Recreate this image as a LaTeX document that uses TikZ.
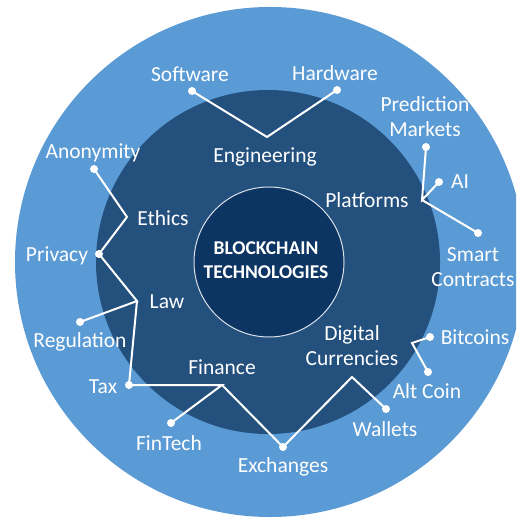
\documentclass[tikz,border=0pt]{standalone}
\usepackage{fontspec}
\setmainfont{Carlito}
\definecolor{outerblue}{HTML}{5B9BD5}
\definecolor{midblue}{HTML}{24507E}
\definecolor{innerblue}{HTML}{0C3563}
\begin{document}
\begin{tikzpicture}[x=1pt,y=-1pt,
  lab/.style={text=white,font=\fontsize{21.5}{25}\selectfont,inner sep=0pt,align=center},
  dot/.style={circle,fill=white,inner sep=0pt,minimum size=8pt},
  conn/.style={white,line width=2pt,line join=miter}]
\useasboundingbox (0,0) rectangle (516,518);
\clip (0,0) rectangle (516,518);
\fill[white] (0,0) rectangle (516,518);
\fill[outerblue] (270,262) circle [radius=255pt];
\fill[midblue] (268,262) circle [radius=172pt];
\filldraw[fill=innerblue,draw=white!85!innerblue,line width=1pt] (269,262) circle [radius=75pt];

\node[lab,font=\fontsize{19.5}{24}\selectfont\bfseries] (core) at (266,260) {BLOCKCHAIN\\TECHNOLOGIES};

% labels
\node[lab] (tsw) at (190,74) {Software};
\node[lab] (thw) at (335,73) {Hardware};
\node[lab] (teng) at (265,157) {Engineering};
\node[lab] (tpm) at (425,117) {Prediction\\Markets};
\node[lab] (tai) at (460,182) {AI};
\node[lab] (tsc) at (473,267) {Smart\\Contracts};
\node[lab] (tplat) at (367,200) {Platforms};
\node[lab] (tanon) at (93,153) {Anonymity};
\node[lab] (teth) at (163,218) {Ethics};
\node[lab] (tpriv) at (57,256) {Privacy};
\node[lab] (tlaw) at (167,302) {Law};
\node[lab] (treg) at (80,342) {Regulation};
\node[lab] (ttax) at (103,387) {Tax};
\node[lab] (tfin) at (222,367) {Finance};
\node[lab] (tft) at (169,443) {FinTech};
\node[lab] (tex) at (283,467) {Exchanges};
\node[lab] (tdc) at (352,346) {Digital\\Currencies};
\node[lab] (twal) at (385,429) {Wallets};
\node[lab] (tbit) at (475,337) {Bitcoins};
\node[lab] (talt) at (427,391) {Alt Coin};

% vertices
\coordinate (veng) at (267,137);
\coordinate (veth) at (127,217);
\coordinate (vlaw) at (137,301);
\coordinate (vfin) at (222,385);
\coordinate (vdc) at (352,377);
\coordinate (vbc) at (412,343);
\coordinate (vplat) at (422,200);

% dots
\node[dot] (dsw) at (192,91) {};
\node[dot] (dhw) at (337,90) {};
\node[dot] (danon) at (94,169) {};
\node[dot] (dpriv) at (99,254) {};
\node[dot] (dreg) at (80,322) {};
\node[dot] (dtax) at (129,385) {};
\node[dot] (dft) at (171,423) {};
\node[dot] (dex) at (283,447) {};
\node[dot] (dwal) at (386,409) {};
\node[dot] (dbit) at (430,337) {};
\node[dot] (dalt) at (428,372) {};
\node[dot] (dpm) at (426,147) {};
\node[dot] (dai) at (439,182) {};
\node[dot] (dsc) at (478,233) {};

% connectors
\draw[conn] (dsw.center) -- (veng) -- (dhw.center);
\draw[conn] (danon.center) -- (veth) -- (dpriv.center) -- (vlaw) -- (dreg.center);
\draw[conn] (vlaw) -- (dtax.center) -- (vfin) -- (dft.center);
\draw[conn] (vfin) -- (dex.center) -- (vdc) -- (dwal.center);
\draw[conn] (dbit.center) -- (vbc) -- (dalt.center);
\draw[conn] (dpm.center) -- (vplat) -- (dai.center);
\draw[conn] (vplat) -- (dsc.center);
\end{tikzpicture}
\end{document}
